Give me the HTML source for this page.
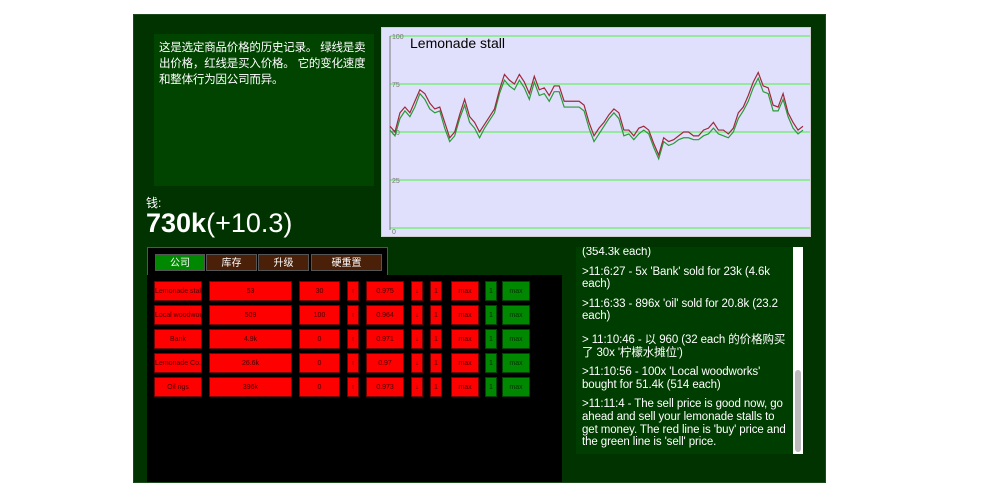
<!DOCTYPE html>
<html><head><meta charset="utf-8">
<style>
body{margin:0;width:1000px;height:501px;background:#fff;position:relative;overflow:hidden;font-family:"Liberation Sans","Noto Sans CJK SC",sans-serif;}
.abs{position:absolute;}
#main{left:133px;top:14px;width:693px;height:469px;background:#003300;border:1px solid #1c4a1c;box-sizing:border-box;}
#info{left:154px;top:34px;width:220px;height:152px;background:#004400;color:#fff;font-size:11.5px;line-height:16px;padding:6px 2px 6px 5px;box-sizing:border-box;letter-spacing:-0.2px;}
#frame{left:381px;top:27px;width:430px;height:210px;background:#e0e0fc;border:1px solid #ccc;box-sizing:border-box;}
.tab{position:absolute;top:254px;height:17px;font-size:10px;color:#fff;text-align:center;line-height:17px;border:1px solid #555;box-sizing:border-box;}
.cell{position:absolute;height:20px;background:#f00;color:#400;font-size:7px;text-align:center;line-height:20px;border:1px solid #700;box-sizing:border-box;white-space:nowrap;overflow:hidden;}
.g{background:#080;color:#030;border-color:#040;}
#log{left:576px;top:247px;width:217px;height:207px;background:#003d00;color:#fff;font-size:11.5px;line-height:12.6px;overflow:hidden;letter-spacing:-0.1px;}
#log p{margin:0 0 7px 0;padding:0 2px 0 6px;}
</style></head><body>
<div id="main" class="abs"></div>
<div id="info" class="abs">这是选定商品价格的历史记录。 绿线是卖出价格，红线是买入价格。 它的变化速度和整体行为因公司而异。</div>
<div class="abs" style="left:146px;top:194px;color:#fff;font-size:12px">钱:</div>
<div class="abs" style="left:146px;top:208px;color:#fff;font-size:27px"><b>730k</b>(+10.3)</div>
<div id="frame" class="abs">
<svg id="chart" width="428" height="208" style="position:absolute;left:0;top:0"></svg>
</div>
<div class="abs" style="left:147px;top:247px;width:241px;height:30px;background:#000;border:1px solid #555;box-sizing:border-box"></div>
<div class="tab" style="left:155px;width:50px;background:#080">公司</div>
<div class="tab" style="left:206px;width:51px;background:#4a2008">库存</div>
<div class="tab" style="left:258px;width:51px;background:#4a2008">升级</div>
<div class="tab" style="left:311px;width:71px;background:#4a2008">硬重置</div>
<div class="abs" style="left:147px;top:275px;width:415px;height:207px;background:#000"></div>
<div id="rows"></div>
<div id="log" class="abs">
<p style="margin-top:-1px">(354.3k each)</p>
<p>&gt;11:6:27 - 5x 'Bank' sold for 23k (4.6k each)</p>
<p>&gt;11:6:33 - 896x 'oil' sold for 20.8k (23.2 each)</p>
<p style="margin-top:11px">&gt; 11:10:46 - 以 960 (32 each 的价格购买了 30x '柠檬水摊位')</p>
<p>&gt;11:10:56 - 100x 'Local woodworks' bought for 51.4k (514 each)</p>
<p>&gt;11:11:4 - The sell price is good now, go ahead and sell your lemonade stalls to get money. The red line is 'buy' price and the green line is 'sell' price.</p>
</div>
<div class="abs" style="left:793px;top:247px;width:10px;height:207px;background:#fff"><div style="position:absolute;left:2px;top:123px;width:6px;height:82px;background:#bbb;border-radius:3px"></div></div>
<script>
const buyPrices=[53,50,60,63,60,66,72,70,65,62,63,55,47,50,59,67,58,55,50,54,58,62,72,80,77,75,80,76,70,79,72,73,69,74,74,66,66,66,66,64,55,48,52,55,59,62,60,51,51,48,52,53,51,44,38,47,45,46,48,50,50,48,48,51,52,55,51,51,49,52,60,63,69,76,81,74,73,64,63,70,60,55,51,53];
const sellPrices=[51,48,57,61,58,63,70,67,62,60,61,52,45,48,57,64,55,52,47,52,56,60,70,77,74,72,77,73,67,76,69,70,66,71,71,63,63,63,63,61,52,45,49,53,57,60,57,48,49,46,49,51,49,42,36,45,43,44,46,47,47,46,46,48,49,52,49,48,47,50,57,61,66,73,78,71,70,61,61,67,58,52,49,51];
const yTicks=[0,25,50,75,100];
const title="Lemonade stall";
const NS="http://www.w3.org/2000/svg";
const svg=document.getElementById('chart');
const X0=8,X1=421,Y0=200,Y1=8;
const xs=i=>X0+(X1-X0)*i/(buyPrices.length-1);
const ys=v=>Y0-(Y0-Y1)*v/100;
function mk(t,a){const e=document.createElementNS(NS,t);for(const k in a)e.setAttribute(k,a[k]);svg.appendChild(e);return e;}
yTicks.forEach(t=>{
 const l=mk('line',{x1:X0,x2:428,y1:ys(t),y2:ys(t),stroke:'#66ee66','stroke-width':1.2});
 
 
 const tx=mk('text',{x:X0+2,y:ys(t)+(t===0?6:3),'font-size':7,fill:'#777','font-family':'Liberation Sans'});
 tx.textContent=t;
 
 
});
const ax=mk('line',{x1:X0,x2:X0,y1:Y1,y2:Y0+2,stroke:'#777','stroke-width':1});


const tt=mk('text',{x:28,y:20,'font-size':14,fill:'#000','font-family':'Liberation Sans'});
tt.textContent=title;


const sp=mk('polyline',{points:sellPrices.map((v,i)=>xs(i)+','+ys(v)).join(' '),fill:'none',stroke:'#2a9a3a','stroke-width':1.2});


const bp=mk('polyline',{points:buyPrices.map((v,i)=>xs(i)+','+ys(v)).join(' '),fill:'none',stroke:'#a0283c','stroke-width':1.2});



const names=['Lemonade stall','Local woodworks','Bank','Lemonade Co.','Oil rigs'];
const prices=['53','509','4.9k','26.6k','396k'];
const owned=['30','100','0','0','0'];
const rates=['0.975','0.964','0.971','0.97','0.973'];
const cols=[[154,48,0],[209,83,1],[299,41,2],[347,12,'↑'],[366,38,3],[411,12,'↓'],[430,12,'1'],[451,28,'max'],[485,12,'1g'],[502,28,'maxg']];
const rowsEl=document.getElementById('rows');
names.forEach((n,r)=>{
 cols.forEach(c=>{
  const d=document.createElement('div');
  let txt=c[2],g=false;
  if(txt===0)txt=n;else if(txt===1)txt=prices[r];else if(txt===2)txt=owned[r];else if(txt===3)txt=rates[r];
  else if(txt==='1g'){txt='1';g=true;}else if(txt==='maxg'){txt='max';g=true;}
  d.className='cell'+(g?' g':'');
  d.style.left=c[0]+'px';d.style.top=(281+24*r)+'px';d.style.width=c[1]+'px';
  d.textContent=txt;
  
  
  rowsEl.appendChild(d);
 });
});
</script>
</body></html>
